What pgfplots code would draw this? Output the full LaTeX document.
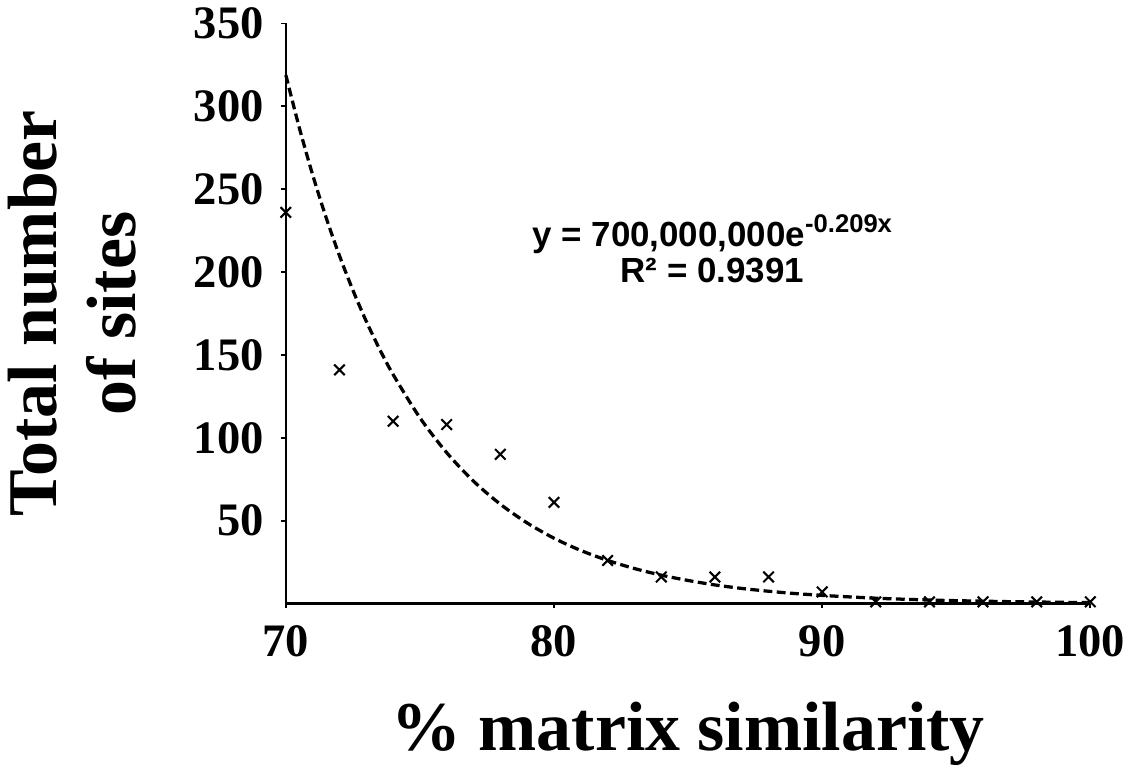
\documentclass[border=0pt]{standalone}
\usepackage{pgfplots}
\pgfplotsset{compat=1.18}
\usepackage{fontspec}
\setmainfont{Liberation Serif}
\newfontfamily\arialb{Liberation Sans}

\begin{document}
\begin{tikzpicture}
\begin{axis}[
    scale only axis,
    width=12.15cm,
    height=8.76cm,
    xmin=70, xmax=100,
    ymin=0, ymax=350,
    axis lines=left,
    axis line style={line width=1.1pt, -},
    xtick={70,80,90,100},
    ytick={50,100,...,350},
    tick align=outside,
    major tick length=0.07cm,
    tick style={line width=0.8pt, black},
    /pgf/number format/assume math mode=true,
    ticklabel style={font=\fontsize{20}{22}\selectfont\bfseries},
    xticklabel style={yshift=-0.14cm},
    yticklabel style={xshift=-0.14cm},
    xlabel={\% matrix similarity},
    ylabel={Total number\\of sites},
    label style={font=\fontsize{30}{34}\selectfont\bfseries},
    xlabel style={at={(axis description cs:0.5,-0.155)}, anchor=north},
    ylabel style={at={(axis description cs:-0.176,0.5)}, anchor=south, align=center},
    clip=false,
]
% exponential fit, sampled values
\addplot[black, dashed, line width=1.4pt, dash pattern=on 3.8pt off 1.9pt, smooth] coordinates {
(70,318.9) (70.5,287.3) (71,258.7) (71.5,233.0) (72,209.9) (72.5,189.1) (73,170.3)
(73.5,153.4) (74,138.2) (75,112.1) (76,91.0) (77,73.8) (78,59.9) (79,48.6)
(80,39.4) (81,32.0) (82,26.0) (83,21.1) (84,17.1) (85,13.9) (86,11.2) (87,9.1)
(88,7.4) (89,6.0) (90,4.9) (91,4.0) (92,3.2) (93,2.6) (94,2.1) (95,1.7)
(96,1.4) (97,1.1) (98,0.9) (99,0.7) (100,0.6)
};
% observed counts
\addplot[only marks, mark=x, mark size=3.2pt, mark options={line width=0.9pt, black}] coordinates {
(70,236) (72,141) (74,110) (76,108) (78,90) (80,61) (82,26) (84,16)
(86,16) (88,16) (90,7) (92,1) (94,1) (96,1) (98,1) (100,1)
};
\node[align=center, font=\arialb\fontsize{15}{15.5}\selectfont\bfseries] at (axis cs:85.9,214)
  {y = 700,000,000e\raisebox{0.42em}{\fontsize{11}{12}\selectfont -0.209x}\\R² = 0.9391};
\end{axis}
\end{tikzpicture}
\end{document}
